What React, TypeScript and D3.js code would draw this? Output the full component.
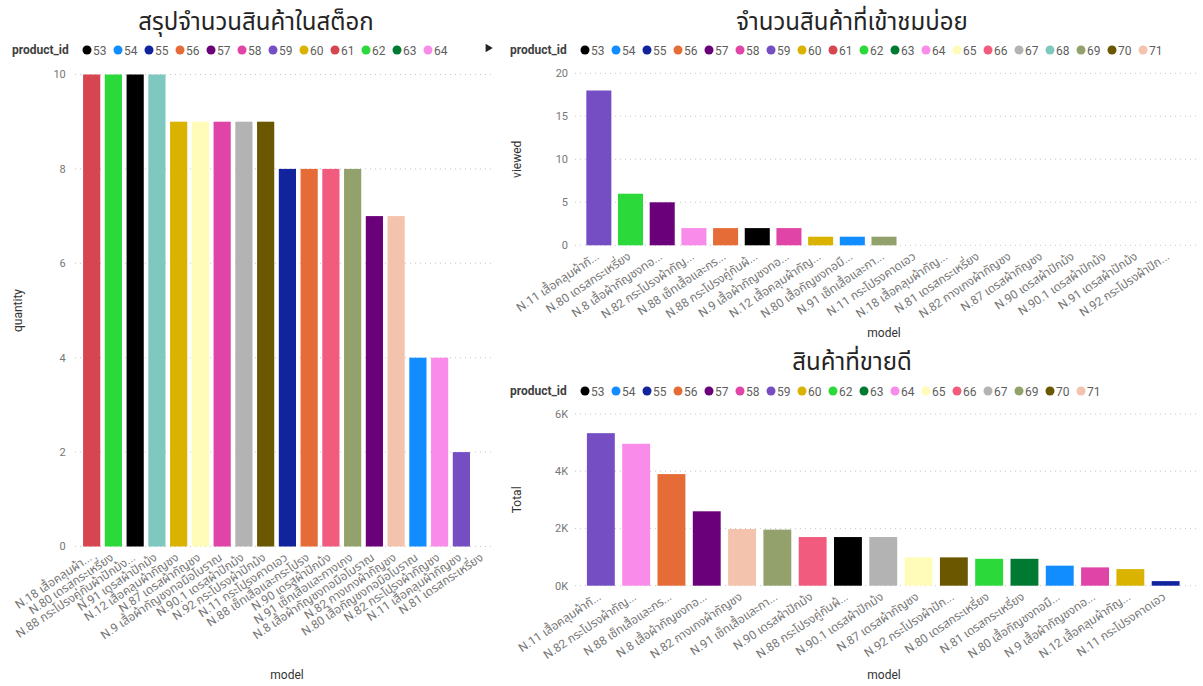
import { useEffect } from "react";
import * as d3 from "d3";

// product_id -> colour (Power BI palette as seen in the legends)
const productIds = [53, 54, 55, 56, 57, 58, 59, 60, 61, 62, 63, 64, 65, 66, 67, 68, 69, 70, 71];
const productColors = [
  "#000000", "#118DFF", "#12239E", "#E66C37", "#6B007B", "#E044A7", "#744EC2",
  "#D9B300", "#D64550", "#2BD93A", "#007A33", "#F98BEA", "#FFFBB8", "#F05B7E",
  "#B3B3B3", "#7FC8BF", "#93A26D", "#6B5700", "#F4C3AD",
];

// สรุปจำนวนสินค้าในสต็อก
const stockIds = [61, 62, 53, 68, 60, 65, 58, 67, 70, 55, 56, 66, 69, 57, 71, 54, 64, 59, 63];
const stockLabels = [
  "N.18 เสื้อคลุมผ้า...", "N.80 เดรสกระเหรี่ยง", "N.88 กระโปรงคู่กับผ้าปักม้ง...",
  "N.91 เดรสผ้าปักม้ง", "N.12 เสื้อคลุมผ้ากัญชง", "N.87 เดรสผ้ากัญชง",
  "N.9 เสื้อผ้ากัญชงทอมือโบราณ", "N.90.1 เดรสผ้าปักม้ง", "N.92 กระโปรงผ้าปักม้ง",
  "N.11 กระโปรงคาดเอว", "N.88 เซ็ทเสื้อและกระโปรง", "N.90 เดรสผ้าปักม้ง",
  "N.91 เซ็ทเสื้อและกางเกง", "N.8 เสื้อผ้ากัญชงทอมือโบราณ", "N.82 กางเกงผ้ากัญชง",
  "N.80 เสื้อกัญชงทอมือโบราณ", "N.82 กระโปรงผ้ากัญชง", "N.11 เสื้อคลุมผ้ากัญชง",
  "N.81 เดรสกระเหรี่ยง",
];
const stockValues = [10, 10, 10, 10, 9, 9, 9, 9, 9, 8, 8, 8, 8, 7, 7, 4, 4, 2, 0];
const stockTicks = [0, 2, 4, 6, 8, 10];
const stockLegend = [53, 54, 55, 56, 57, 58, 59, 60, 61, 62, 63, 64];

// จำนวนสินค้าที่เข้าชมบ่อย
const viewIds = [59, 62, 57, 64, 56, 53, 58, 60, 54, 69, 55, 61, 63, 71, 65, 66, 67, 68, 70];
const viewLabels = [
  "N.11 เสื้อคลุมผ้ากั...", "N.80 เดรสกระเหรี่ยง", "N.8 เสื้อผ้ากัญชงทอ...",
  "N.82 กระโปรงผ้ากัญ...", "N.88 เซ็ทเสื้อและกร...", "N.88 กระโปรงคู่กับผ้...",
  "N.9 เสื้อผ้ากัญชงทอ...", "N.12 เสื้อคลุมผ้ากัญ...", "N.80 เสื้อกัญชงทอมื...",
  "N.91 เซ็ทเสื้อและกา...", "N.11 กระโปรงคาดเอว", "N.18 เสื้อคลุมผ้ากัญ...",
  "N.81 เดรสกระเหรี่ยง", "N.82 กางเกงผ้ากัญชง", "N.87 เดรสผ้ากัญชง",
  "N.90 เดรสผ้าปักม้ง", "N.90.1 เดรสผ้าปักม้ง", "N.91 เดรสผ้าปักม้ง",
  "N.92 กระโปรงผ้าปัก...",
];
const viewValues = [18, 6, 5, 2, 2, 2, 2, 1, 1, 1, 0, 0, 0, 0, 0, 0, 0, 0, 0];
const viewTicks = [0, 5, 10, 15, 20];
const viewLegend = productIds;

// สินค้าที่ขายดี
const salesIds = [59, 64, 56, 57, 71, 69, 66, 53, 67, 65, 70, 62, 63, 54, 58, 60, 55];
const salesLabels = [
  "N.11 เสื้อคลุมผ้ากั...", "N.82 กระโปรงผ้ากัญ...", "N.88 เซ็ทเสื้อและกร...",
  "N.8 เสื้อผ้ากัญชงทอ...", "N.82 กางเกงผ้ากัญชง", "N.91 เซ็ทเสื้อและกา...",
  "N.90 เดรสผ้าปักม้ง", "N.88 กระโปรงคู่กับผ้...", "N.90.1 เดรสผ้าปักม้ง",
  "N.87 เดรสผ้ากัญชง", "N.92 กระโปรงผ้าปัก...", "N.80 เดรสกระเหรี่ยง",
  "N.81 เดรสกระเหรี่ยง", "N.80 เสื้อกัญชงทอมื...", "N.9 เสื้อผ้ากัญชงทอ...",
  "N.12 เสื้อคลุมผ้ากัญ...", "N.11 กระโปรงคาดเอว",
];
const salesValues = [5330, 4960, 3900, 2600, 1980, 1960, 1700, 1700, 1700, 990, 990, 940, 940, 700, 640, 580, 160];
const salesTicks = [0, 2000, 4000, 6000];
const salesLegend = productIds.filter(id => id !== 61 && id !== 68);

const FONT = "'Segoe UI', Roboto, 'Noto Sans', 'Noto Sans Thai', sans-serif";
const colorOf = d3.scaleOrdinal<number, string>().domain(productIds).range(productColors);

interface ChartProps {
  title: string;
  titleX: number;
  titleY: number;
  legendX: number;
  legendY: number;
  legendIds: number[];
  moreArrow?: boolean;
  ids: number[];
  labels: string[];
  values: number[];
  ticks: number[];
  tickFormat: (v: number) => string;
  xRange: [number, number];
  yRange: [number, number];
  gridX: [number, number];
  yTitle: string;
  yTitleX: number;
}

function BarChart(p: ChartProps) {
  const x = d3.scaleBand<number>()
    .domain(d3.range(p.values.length))
    .range(p.xRange)
    .paddingInner(0.21)
    .paddingOuter(0.105);
  const y = d3.scaleLinear()
    .domain([0, p.ticks[p.ticks.length - 1]])
    .range(p.yRange);
  const y0 = y(0);
  const triangle = d3.symbol(d3.symbolTriangle, 30)();

  return (
    <g fontFamily={FONT}>
      <text x={p.titleX} y={p.titleY} textAnchor="middle" fontSize={24} fill="#252423">
        {p.title}
      </text>

      {/* legend */}
      <g transform={`translate(${p.legendX},${p.legendY})`}>
        <text x={0} y={4} fontSize={12} fontWeight="bold" fill="#404040">product_id</text>
        {p.legendIds.map((id, i) => (
          <g key={id} transform={`translate(${75 + i * 31},0)`}>
            <circle cx={0} cy={0} r={4.5} fill={colorOf(id)} />
            <text x={6} y={4.5} fontSize={12} fill="#605E5C">{id}</text>
          </g>
        ))}
        {p.moreArrow && (
          <path d={triangle ?? ""} transform="translate(476,-2) rotate(90)" fill="#252423" />
        )}
      </g>

      {/* gridlines + y ticks */}
      {p.ticks.map(t => (
        <g key={t}>
          <line x1={p.gridX[0]} x2={p.gridX[1]} y1={y(t)} y2={y(t)}
            stroke="#C8C8C8" strokeDasharray="1,4" />
          <text x={p.xRange[0] - 15} y={y(t)} dy="0.35em" textAnchor="end" fontSize={11} fill="#777">
            {p.tickFormat(t)}
          </text>
        </g>
      ))}

      {/* bars */}
      {p.values.map((v, i) => (
        <rect key={i} x={x(i)} y={y(v)} width={x.bandwidth()} height={y0 - y(v)}
          fill={colorOf(p.ids[i])} />
      ))}

      {/* category labels */}
      {p.labels.map((l, i) => (
        <text key={i} fontSize={12} fill="#777" textAnchor="end"
          transform={`translate(${(x(i) ?? 0) + x.bandwidth() / 2 + 1},${y0 + 13}) rotate(-34)`}>
          {l}
        </text>
      ))}

      {/* axis titles */}
      <text transform={`translate(${p.yTitleX},${(p.yRange[0] + p.yRange[1]) / 2}) rotate(-90)`}
        textAnchor="middle" fontSize={12} fill="#333">{p.yTitle}</text>
    </g>
  );
}

export default function App() {
  useEffect(() => {
    document.body.style.margin = "0";
  }, []);

  const intFmt = (v: number) => String(v);
  const kFmt = (v: number) => `${v / 1000}K`;

  return (
    <svg width={1203} height={686} style={{ display: "block", background: "#fff" }}>
      <BarChart
        title="สรุปจำนวนสินค้าในสต็อก" titleX={256} titleY={30}
        legendX={12} legendY={50} legendIds={stockLegend} moreArrow
        ids={stockIds} labels={stockLabels} values={stockValues}
        ticks={stockTicks} tickFormat={intFmt}
        xRange={[80.8, 494]} yRange={[546.5, 74.5]} gridX={[75, 492]}
        yTitle="quantity" yTitleX={22}
      />
      <text x={287} y={679} textAnchor="middle" fontSize={12} fill="#333" fontFamily={FONT}>model</text>

      <BarChart
        title="จำนวนสินค้าที่เข้าชมบ่อย" titleX={852} titleY={30}
        legendX={510} legendY={50} legendIds={viewLegend}
        ids={viewIds} labels={viewLabels} values={viewValues}
        ticks={viewTicks} tickFormat={intFmt}
        xRange={[583, 1185]} yRange={[245.3, 73.3]} gridX={[575, 1197]}
        yTitle="viewed" yTitleX={521}
      />
      <text x={884} y={337} textAnchor="middle" fontSize={12} fill="#333" fontFamily={FONT}>model</text>

      <BarChart
        title="สินค้าที่ขายดี" titleX={852} titleY={370}
        legendX={510} legendY={391} legendIds={salesLegend}
        ids={salesIds} labels={salesLabels} values={salesValues}
        ticks={salesTicks} tickFormat={kFmt}
        xRange={[583.2, 1183.3]} yRange={[585.7, 414]} gridX={[575, 1197]}
        yTitle="Total" yTitleX={521}
      />
      <text x={884} y={679} textAnchor="middle" fontSize={12} fill="#333" fontFamily={FONT}>model</text>
    </svg>
  );
}
